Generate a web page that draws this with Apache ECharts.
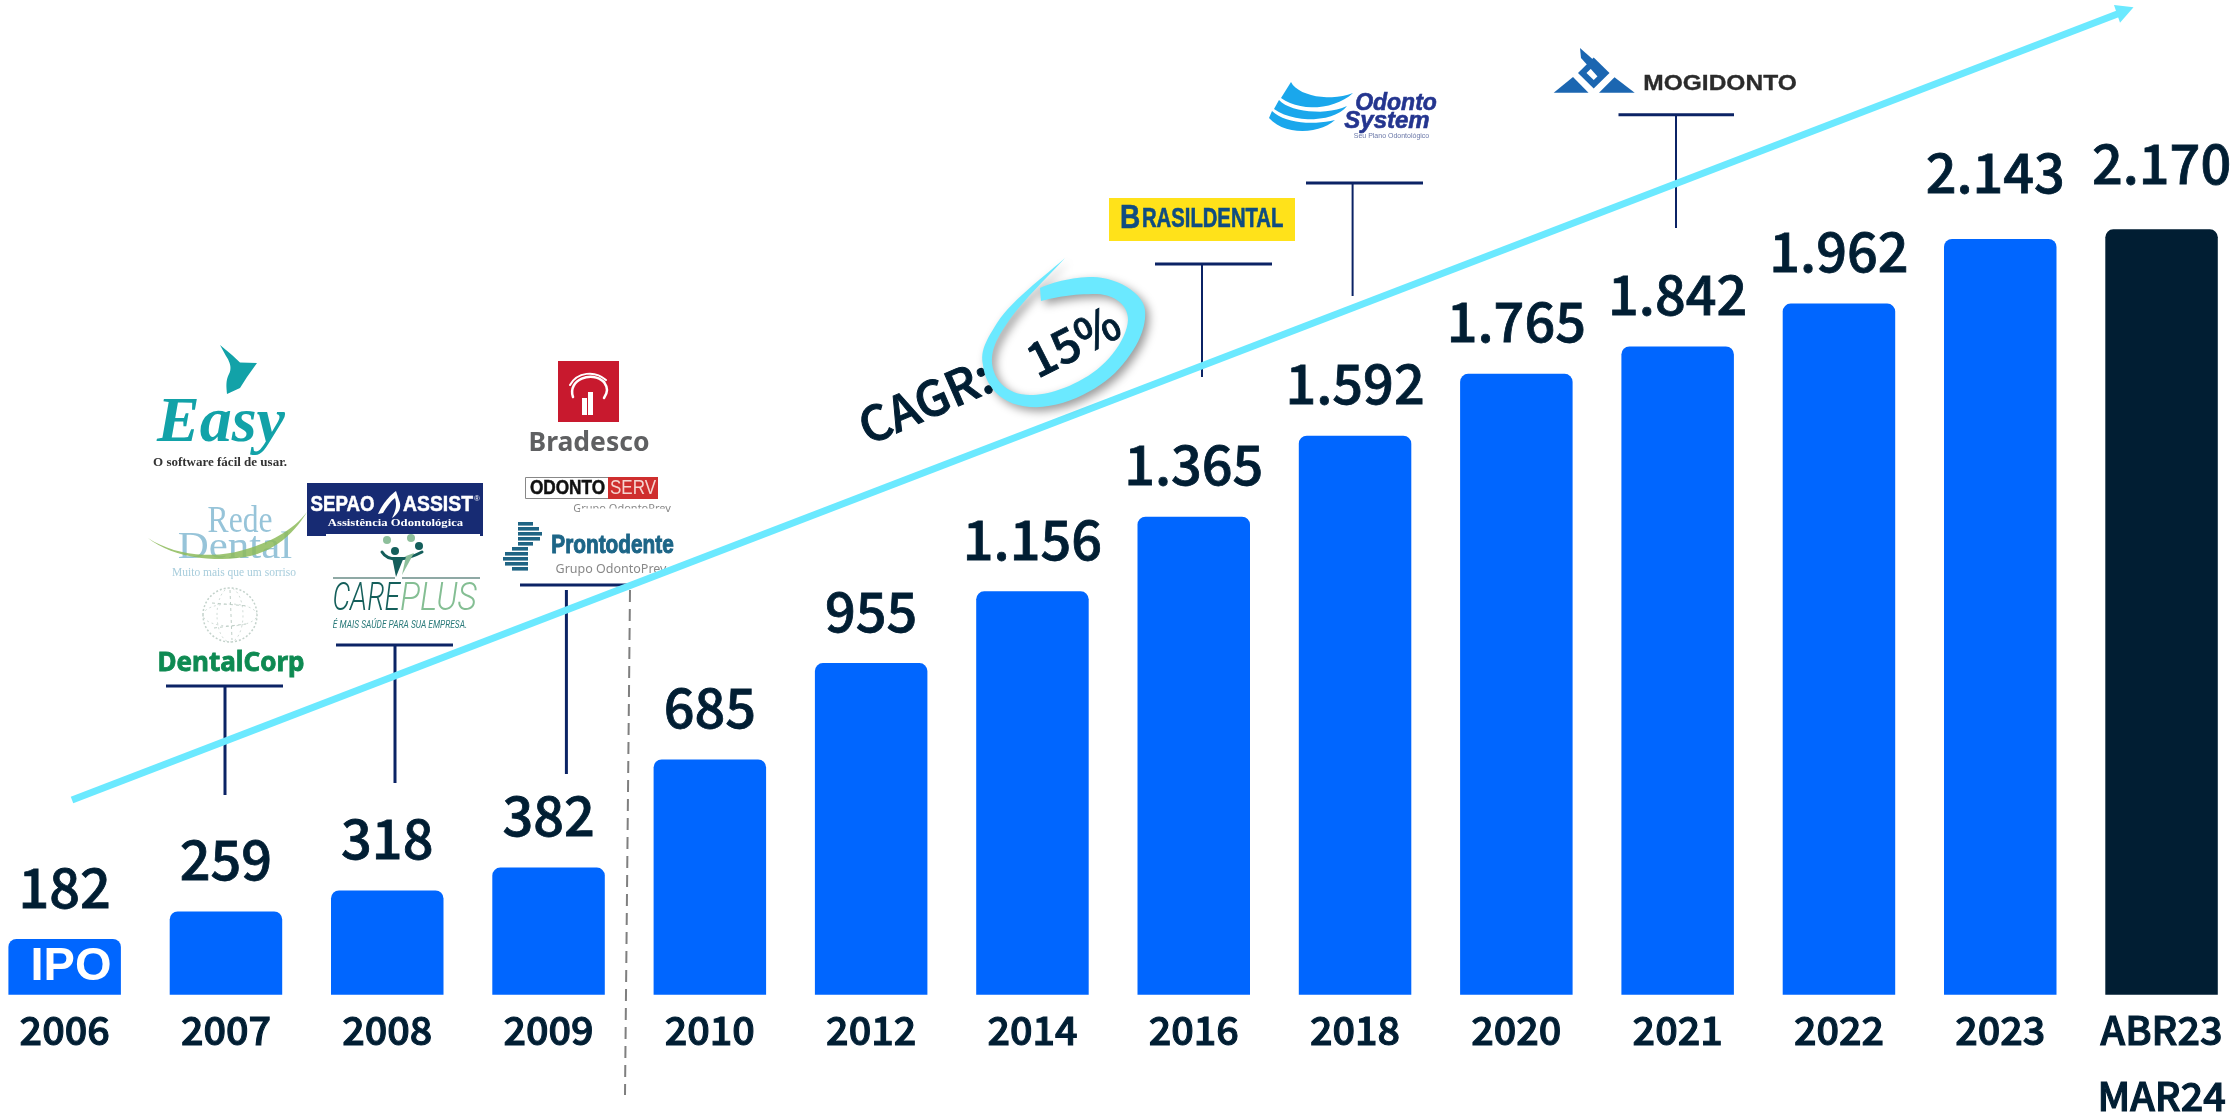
<!DOCTYPE html>
<html>
<head>
<meta charset="utf-8">
<style>html,body{margin:0;padding:0;background:#fff}#c{width:2234px;height:1118px}</style>
<script src="https://cdn.jsdelivr.net/npm/echarts@6/dist/echarts.min.js"></script>
</head>
<body>
<div id="c"></div>
<script>
// Chart data
const categories = ['2006','2007','2008','2009','2010','2012','2014','2016','2018','2020','2021','2022','2023','ABR23\nMAR24'];
const seriesValues = [182,259,318,382,685,955,1156,1365,1592,1765,1842,1962,2143,2170];
const BLUE='#0066FF', DARK='#011E33', CYAN='#6BE9FF', NAVY='#0B2365';
const NUMFONT='"Noto Sans CJK JP"';
const fmt = v => String(v).replace(/\B(?=(\d{3})+$)/g,'.');

// ---- annotation helpers (logos, connectors, CAGR arrow) ----
const g=[];
const T=(text,x,y,font,fill,o={})=>g.push({type:'text',x,y,rotation:o.rot||0,scaleX:o.sx||1,scaleY:o.sy||1,silent:true,
  style:{text,fill,font,align:o.align||'center',textAlign:o.align||'center',verticalAlign:'middle',textVerticalAlign:'middle',
    stroke:o.heavy?fill:null,lineWidth:o.heavy||0}});
const R=(x,y,w,h,fill,o={})=>g.push({type:'rect',silent:true,shape:{x,y,width:w,height:h,r:o.r||0},style:{fill,stroke:o.stroke||null,lineWidth:o.lw||0}});
const L=(x1,y1,x2,y2,stroke,lw,o={})=>g.push({type:'line',silent:true,shape:{x1,y1,x2,y2},style:{stroke,lineWidth:lw,lineDash:o.dash||null,lineCap:o.cap||'butt'}});
const PG=(pts,fill,o={})=>g.push({type:'polygon',silent:true,shape:{points:pts},style:Object.assign({fill},o)});
const C=(cx,cy,r,fill,o={})=>g.push({type:'circle',silent:true,shape:{cx,cy,r},style:{fill,stroke:o.stroke||null,lineWidth:o.lw||0,lineDash:o.dash||null}});
const E=(cx,cy,rx,ry,stroke,lw,dash)=>g.push({type:'ellipse',silent:true,shape:{cx,cy,rx,ry},style:{fill:null,stroke,lineWidth:lw,lineDash:dash}});
const CV=(pts,stroke,lw)=>g.push({type:'bezierCurve',silent:true,shape:{x1:pts[0],y1:pts[1],cpx1:pts[2],cpy1:pts[3],cpx2:pts[4],cpy2:pts[5],x2:pts[6],y2:pts[7]},style:{stroke,lineWidth:lw,fill:null,lineCap:'round'}});
// Flattens a small "M x y C ... L ..." outline into a polygon (graphic elements have no raw path type).
const flat=d=>{const n=d.match(/[MCLZ]|-?[\d.]+/g);const p=[];let i=0,cmd='',x=0,y=0;
  while(i<n.length){if(/[MCLZ]/.test(n[i])){cmd=n[i++];if(cmd==='Z')continue;}
    if(cmd==='C'){const a=n.slice(i,i+6).map(Number);i+=6;for(let k=1;k<=14;k++){const t=k/14,u=1-t;
      p.push([u*u*u*x+3*u*u*t*a[0]+3*u*t*t*a[2]+t*t*t*a[4],u*u*u*y+3*u*u*t*a[1]+3*u*t*t*a[3]+t*t*t*a[5]]);}x=a[4];y=a[5];}
    else{x=+n[i++];y=+n[i++];p.push([x,y]);}}
  return p;};
const S=(d,fill,o={})=>PG(flat(d),fill,o);

// IPO
T('IPO',71,967,'bold 47px "Liberation Sans"','#fff');

// Easy
S('M220 345 L232 355 L240 362.5 L257 363 L247 377 L240 388 L227 394 C226 385,226 380,229 374 C232 368,230 362,226 356 Z','#12A2A8');
T('Easy',221,424,'italic bold 64px "Liberation Serif"','#12A2A8');
T('O software fácil de usar.',220,463,'bold 13px "Liberation Serif"','#333');
// Rede Dental
T('Rede',240,522,'38px "Liberation Serif"','#97C4D9',{sx:.83});
T('Dental',235,548,'38px "Liberation Serif"','#97C4D9',{sx:1.13});
S('M148 538 C175 556,215 560,250 548 C275 540,295 528,307 512 C295 532,275 552,245 557 C210 563,170 556,148 538 Z','#8DBB5B',{opacity:.85});
T('Muito mais que um sorriso',234,573,'11.5px "Liberation Serif"','#A8CDDC');
// Globe
E(230,615,27,27,'#C3D2CB',1.5,[2,2]);
E(230,615,13,27,'#D2DDD8',1,[2,3]);
E(230,615,27,11,'#D2DDD8',1,[2,3]);
L(212,603,248,606,'#BFCFC7',1,{dash:[3,3]});
L(214,628,246,624,'#BFCFC7',1,{dash:[3,3]});
L(230,590,232,640,'#BFCFC7',1,{dash:[3,3]});
// DentalCorp
T('DentalCorp',231,664,'bold 26px "Noto Sans"','#0E8A52',{heavy:.8});
// T 2007
L(166,686,283,686,NAVY,3); L(225,686,225,795,NAVY,3);

// Sepao
R(307,483,176,53,'#172B73');
T('SEPAO',342.5,505,'bold 22px "Liberation Sans"','#fff',{sx:.85,heavy:.5});
T('ASSIST',438,505,'bold 22px "Liberation Sans"','#fff',{sx:.88,heavy:.5});
T('®',477,499,'8px "Liberation Sans"','#fff');
S('M378 514 C382 505,388 497,396 491 L400 503 C401 509,398 514,392 518 C396 510,397 505,395 498 C390 502,386 508,383 513 Z','#fff');
T('Assistência Odontológica',395.5,523,'bold 11px "Liberation Serif"','#fff',{sx:1.15});
R(326,534,154,4,'#fff');
// Careplus
C(387,540,4,'#8DBF9B'); C(411,538,4,'#8DBF9B');
C(395,551,4,'#145E5B'); C(419,546,4,'#145E5B');
CV([382,552,388,562,405,561,422,552],'#145E5B',3);
PG([[392,557],[404,557],[396,577]],'#145E5B');
PG([[406,556],[414,553],[402,575]],'#8DBF9B');
L(333,578,395,578,'#8FA9A5',2); L(402,578,480,578,'#8FA9A5',2);
T('CARE',400,600,'italic 300 38px Roboto','#155F5B',{align:'right',sx:.74});
T('PLUS',400,600,'italic 300 38px Roboto','#84BE93',{align:'left',sx:.88});
T('É MAIS SAÚDE PARA SUA EMPRESA.',400,625,'italic 10.5px Roboto','#2A7A7A',{sx:.8});
// T 2008
L(336,645,453,645,NAVY,3); L(395,645,395,783,NAVY,3);

// Bradesco
R(558,361,61,61,'#C8192E');
CV([573,397,567,380,592,370,604,382],'#fff',2.5);
CV([604,382,608,388,608,392,604,398],'#fff',2.5);
CV([570,385,577,372,595,370,606,380],'#fff',2);
R(582,398,5,17,'#fff'); R(588,392,5,23,'#fff');
T('Bradesco',589,443,'bold 26.5px "Noto Sans"','#5F6062');
// Odontoserv
R(525.5,477.5,132,21,'#fff',{stroke:'#888',lw:1});
R(608,477,50,22,'#CF2F2E');
T('ODONTO',567.5,488,'bold 20px "Liberation Sans"','#111',{sx:.86,heavy:.5});
T('SERV',633,488,'20px "Liberation Sans"','#F5D5D0',{sx:.85});
T('Grupo OdontoPrev',622,509,'11px "Noto Sans"','#888');
R(580,508.5,85,7,'#fff');
// Prontodente
[[518,522,15],[518,527,21],[518,532,24],[518,537,22],[518,542,15],
 [512,547,16],[505,552,23],[503,557,25],[505,562,23],[512,567,16]].forEach(r=>R(r[0],r[1],r[2],3.6,'#1F6484'));
T('Prontodente',612.5,546,'bold 26px "Liberation Sans"','#1C6587',{sx:.8,heavy:1});
T('Grupo OdontoPrev',611,569,'12.5px "Noto Sans"','#888');
// T 2009
L(520,585,635,585,NAVY,3); L(566.4,590,566.4,774,NAVY,3);

// Brasildental
R(1109,198,186,43,'#FFE21A');
T('B',1120,219,'bold 33px "Liberation Sans"','#0F4C81',{align:'left',sx:.85,heavy:.6});
T('RASILDENTAL',1142,220,'bold 27px "Liberation Sans"','#0F4C81',{align:'left',sx:.75,heavy:.6});
L(1155,264,1272,264,NAVY,3); L(1202,264,1202,377,NAVY,2);

// Odonto System
S('M1291 82 C1298 96,1330 102,1353 93 C1335 110,1300 112,1281 98 Z','#1AA7EC');
S('M1279 100 C1290 112,1325 116,1347 106 C1335 122,1295 124,1274 109 Z','#1AA7EC');
S('M1272 111 C1285 124,1315 125,1335 120 C1320 134,1285 136,1269 118 Z','#1AA7EC');
T('Odonto',1396,104,'italic bold 23px "Liberation Sans"','#24358F',{heavy:.6});
T('System',1387,121,'italic bold 24px "Liberation Sans"','#24358F',{heavy:.6});
T('Seu Plano Odontológico',1391.5,136,'7px "Liberation Sans"','#6B78A8');
L(1306,183,1423,183,NAVY,3); L(1352.6,183,1352.6,296,NAVY,2);

// Mogidonto
PG([[1553.7,92.7],[1573,77],[1588.5,92.7]],'#1B66B1');
PG([[1599,92.7],[1614.5,77.3],[1634.7,92.7]],'#1B66B1');
PG([[1593.7,57.5],[1609.5,73],[1593.7,88.5],[1578,73]],'#1B66B1');
PG([[1593.7,66],[1601,73],[1593.7,80],[1586.5,73]],'#fff');
PG([[1580,48],[1606,71],[1598,77],[1581,58]],'#1B66B1');
T('MOGIDONTO',1720,84,'bold 22.5px "Liberation Sans"','#2B2B2B',{sx:1.09,heavy:.3});
L(1618.5,114.7,1734,114.7,NAVY,3); L(1676,114.7,1676,228,NAVY,2);

// Divider
L(630,590,625,1095,'#7F7F7F',2,{dash:[12,7]});

// CAGR arrow
L(72,800,2120,13,CYAN,7);
PG([[2133.5,7.3],[2114,5],[2120,22.7]],CYAN);

// CAGR badge
T('CAGR:',925,401,'500 48px '+NUMFONT,DARK,{rot:.41,heavy:1});
S('M1065 258 C1040 280,1012 300,997 323 C985 342,980 352,983 365 C985 385,1000 405,1030 407 C1060 409,1095 392,1115 373 C1135 352,1147 330,1145 310 C1143 292,1115 277,1093 277 C1075 277,1055 281,1040 288 L1041 301 C1060 296,1075 294,1097 294 C1115 295,1128 305,1128 320 C1127 338,1110 362,1088 376 C1065 390,1045 395,1030 395 C1010 395,994 383,992 363 C991 350,997 338,1006 325 C1020 303,1045 280,1065 258 Z',CYAN,
  {shadowBlur:10,shadowColor:'rgba(0,0,0,0.4)',shadowOffsetX:4,shadowOffsetY:4});
T('15%',1073,341,'500 47px '+NUMFONT,DARK,{rot:.47,heavy:.8});

g.forEach(e=>{e.z=10;});

const data = seriesValues.map((v,i)=>({
  value:v,
  itemStyle:{color:i===13?DARK:BLUE},
  label: i>=12 ? {offset:[i===12?-5:0,-14]} : {}
}));

const chart = echarts.init(document.getElementById('c'),null,{renderer:'canvas'});
chart.setOption({
  animation:false,
  backgroundColor:'#fff',
  grid:{left:-16,top:94.7,width:2258.2,height:900,containLabel:false,outerBoundsMode:'none'},
  xAxis:{type:'category',data:categories,
    axisLine:{show:false},axisTick:{show:false},
    axisLabel:{interval:0,color:DARK,fontFamily:NUMFONT,fontWeight:500,fontSize:39.5,lineHeight:66,margin:2,
      textBorderColor:DARK,textBorderWidth:1.1}},
  yAxis:{type:'value',min:26,max:2547,show:false,splitLine:{show:false}},
  series:[{type:'bar',data,barWidth:112.5,
    itemStyle:{borderRadius:[8,8,0,0]},
    label:{show:true,position:'top',distance:25,color:DARK,fontFamily:NUMFONT,fontWeight:500,fontSize:54,
      textBorderColor:DARK,textBorderWidth:.8,
      formatter:p=>fmt(p.value)}}],
  graphic:{elements:g}
});
</script>
</body>
</html>
